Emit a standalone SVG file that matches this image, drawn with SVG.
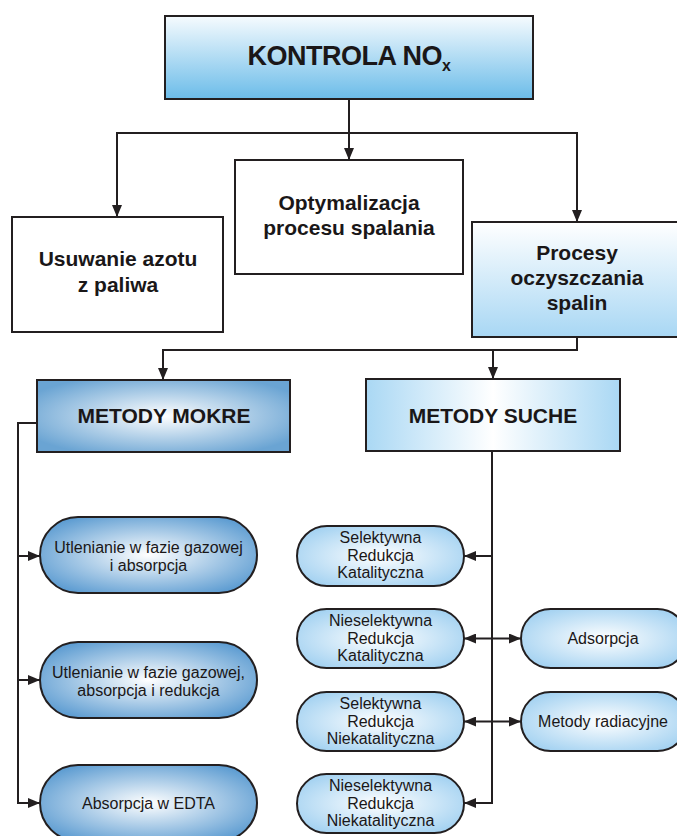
<svg xmlns="http://www.w3.org/2000/svg" width="677" height="836" viewBox="0 0 677 836">
<style>
.box{stroke:#231f20;stroke-width:2}
.ln{fill:none;stroke:#231f20;stroke-width:2}
.t{font-family:"Liberation Sans",Arial,sans-serif;fill:#1a1718;text-anchor:middle}
.b{font-weight:bold;font-size:21px}
.s{font-size:16px}
</style>
<defs>
<marker id="ah" markerUnits="userSpaceOnUse" markerWidth="12" markerHeight="10" refX="12" refY="5" orient="auto-start-reverse" viewBox="0 0 12 10">
<path d="M0,0 L12,5 L0,10 z" fill="#231f20"/>
</marker>
<linearGradient id="gTop" x1="0" y1="0" x2="0" y2="1">
<stop offset="0" stop-color="#f6fbfe"/><stop offset="1" stop-color="#6bbce9"/>
</linearGradient>
<linearGradient id="gProc" x1="0" y1="0" x2="0" y2="1">
<stop offset="0" stop-color="#ffffff"/><stop offset="1" stop-color="#a8d7f4"/>
</linearGradient>
<radialGradient id="gMokre" cx="0.5" cy="0.5" r="0.6">
<stop offset="0" stop-color="#ffffff"/><stop offset="1" stop-color="#6aa4d3"/>
</radialGradient>
<linearGradient id="gSuche" x1="0" y1="0" x2="1" y2="0">
<stop offset="0" stop-color="#aad8f4"/><stop offset="0.5" stop-color="#ffffff"/><stop offset="1" stop-color="#aad8f4"/>
</linearGradient>
<radialGradient id="gPillL" cx="0.5" cy="0.5" r="0.6">
<stop offset="0" stop-color="#ffffff"/><stop offset="1" stop-color="#5b9bd1"/>
</radialGradient>
<radialGradient id="gPillR" cx="0.5" cy="0.5" r="0.6">
<stop offset="0" stop-color="#ffffff"/><stop offset="1" stop-color="#a2d1f1"/>
</radialGradient>
</defs>

<g id="connectors">
<path class="ln" d="M349,99 V160" marker-end="url(#ah)"/>
<path class="ln" d="M117,217 V133 H577 V222" marker-start="url(#ah)" marker-end="url(#ah)"/>
<path class="ln" d="M163,380 V350 H577 V337" marker-start="url(#ah)"/>
<path class="ln" d="M493,350 V379" marker-end="url(#ah)"/>
<path class="ln" d="M37,423 H18 V803 H40" marker-end="url(#ah)"/>
<path class="ln" d="M18,556 H40" marker-end="url(#ah)"/>
<path class="ln" d="M18,680 H40" marker-end="url(#ah)"/>
<path class="ln" d="M492,451 V803 H464" marker-end="url(#ah)"/>
<path class="ln" d="M492,556 H464" marker-end="url(#ah)"/>
<path class="ln" d="M464,638.5 H521" marker-start="url(#ah)" marker-end="url(#ah)"/>
<path class="ln" d="M464,721.5 H521" marker-start="url(#ah)" marker-end="url(#ah)"/>
</g>

<g id="kontrola">
<rect class="box" x="165" y="16" width="368" height="83" fill="url(#gTop)"/>
<text class="t" x="349" y="65" font-weight="bold" font-size="27" letter-spacing="-0.5">KONTROLA NO<tspan font-size="16" dy="6">x</tspan></text>
</g>

<g id="usuwanie">
<rect class="box" x="12" y="217" width="211" height="115" fill="#ffffff"/>
<text class="t b" x="118" y="266">Usuwanie azotu</text>
<text class="t b" x="118" y="292">z paliwa</text>
</g>

<g id="optymalizacja">
<rect class="box" x="235" y="160" width="228" height="114" fill="#ffffff"/>
<text class="t b" x="349" y="210">Optymalizacja</text>
<text class="t b" x="349" y="235">procesu spalania</text>
</g>

<g id="procesy">
<rect class="box" x="472" y="222" width="212" height="115" fill="url(#gProc)"/>
<text class="t b" x="577" y="260">Procesy</text>
<text class="t b" x="577" y="285">oczyszczania</text>
<text class="t b" x="577" y="310">spalin</text>
</g>

<g id="mokre">
<rect class="box" x="37" y="380" width="253" height="72" fill="url(#gMokre)"/>
<text class="t b" x="164" y="423">METODY MOKRE</text>
</g>

<g id="suche">
<rect class="box" x="366" y="379" width="254" height="72" fill="url(#gSuche)"/>
<text class="t b" x="493" y="423">METODY SUCHE</text>
</g>

<g id="utl1">
<rect class="box" x="40" y="517" width="217" height="76" rx="38" fill="url(#gPillL)"/>
<text class="t s" x="148.5" y="553">Utlenianie w fazie gazowej</text>
<text class="t s" x="148.5" y="571">i absorpcja</text>
</g>

<g id="utl2">
<rect class="box" x="40" y="642" width="217" height="76" rx="38" fill="url(#gPillL)"/>
<text class="t s" x="148.5" y="678">Utlenianie w fazie gazowej,</text>
<text class="t s" x="148.5" y="696">absorpcja i redukcja</text>
</g>

<g id="edta">
<rect class="box" x="40" y="765" width="217" height="76" rx="38" fill="url(#gPillL)"/>
<text class="t s" x="148.5" y="809">Absorpcja w EDTA</text>
</g>

<g id="srk">
<rect class="box" x="297" y="526" width="167" height="60" rx="30" fill="url(#gPillR)"/>
<text class="t s" x="380.5" y="543">Selektywna</text>
<text class="t s" x="380.5" y="560.5">Redukcja</text>
<text class="t s" x="380.5" y="578">Katalityczna</text>
</g>

<g id="nrk">
<rect class="box" x="297" y="609" width="167" height="59" rx="29.5" fill="url(#gPillR)"/>
<text class="t s" x="380.5" y="626">Nieselektywna</text>
<text class="t s" x="380.5" y="643.5">Redukcja</text>
<text class="t s" x="380.5" y="661">Katalityczna</text>
</g>

<g id="srn">
<rect class="box" x="297" y="692" width="167" height="59" rx="29.5" fill="url(#gPillR)"/>
<text class="t s" x="380.5" y="709">Selektywna</text>
<text class="t s" x="380.5" y="726.5">Redukcja</text>
<text class="t s" x="380.5" y="744">Niekatalityczna</text>
</g>

<g id="nrn">
<rect class="box" x="297" y="774" width="167" height="59" rx="29.5" fill="url(#gPillR)"/>
<text class="t s" x="380.5" y="791">Nieselektywna</text>
<text class="t s" x="380.5" y="808.5">Redukcja</text>
<text class="t s" x="380.5" y="826">Niekatalityczna</text>
</g>

<g id="adsorpcja">
<rect class="box" x="521" y="609" width="166" height="59" rx="29.5" fill="url(#gPillR)"/>
<text class="t s" x="603" y="644">Adsorpcja</text>
</g>

<g id="radiacyjne">
<rect class="box" x="521" y="692" width="166" height="59" rx="29.5" fill="url(#gPillR)"/>
<text class="t s" x="603" y="727">Metody radiacyjne</text>
</g>
</svg>
